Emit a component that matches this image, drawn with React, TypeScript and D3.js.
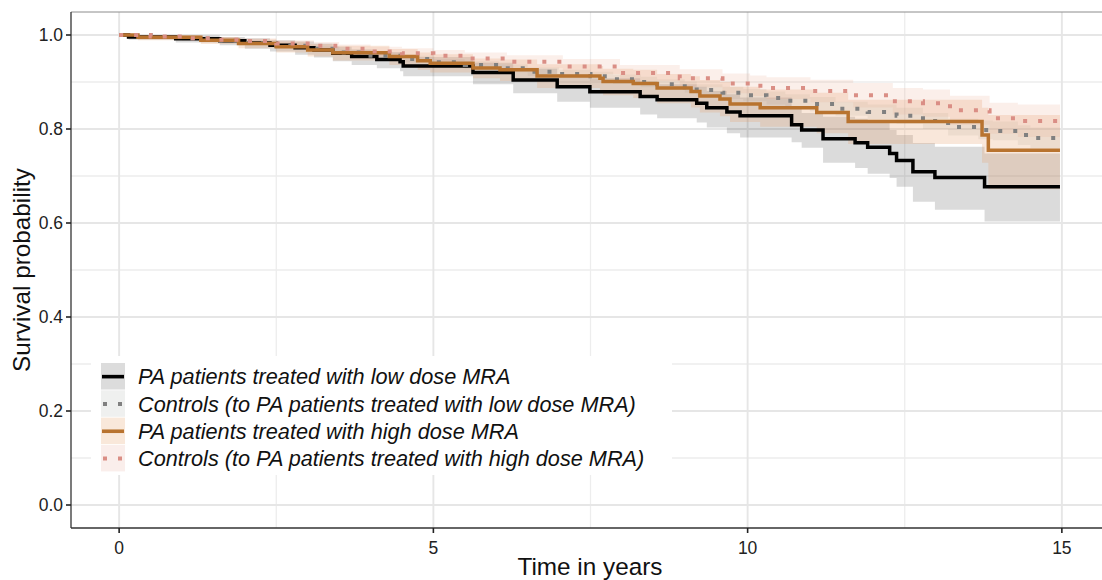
import React from 'react';
import * as d3 from 'd3';

// Kaplan-Meier step curves
const lowTime = [0, 0.15, 0.9, 1.6, 2.0, 2.4, 2.8, 3.1, 3.4, 3.7, 4.1, 4.47, 4.52, 5.63, 6.27, 6.97, 7.49, 8.29, 8.56, 9.19, 9.35, 9.67, 9.88, 10.7, 10.86, 11.2, 11.71, 11.91, 12.26, 12.37, 12.63, 12.98, 13.77, 14.97];
const lowSurv = [1.0, 0.996, 0.992, 0.988, 0.983, 0.978, 0.973, 0.968, 0.961, 0.954, 0.948, 0.943, 0.934, 0.92, 0.904, 0.89, 0.879, 0.869, 0.862, 0.855, 0.845, 0.836, 0.828, 0.809, 0.798, 0.779, 0.771, 0.761, 0.748, 0.733, 0.709, 0.697, 0.677, 0.677];
const lowLower = [1.0, 0.99, 0.984, 0.978, 0.971, 0.965, 0.958, 0.952, 0.944, 0.936, 0.929, 0.923, 0.912, 0.895, 0.876, 0.858, 0.845, 0.831, 0.823, 0.814, 0.803, 0.791, 0.782, 0.772, 0.76, 0.728, 0.717, 0.705, 0.696, 0.677, 0.645, 0.628, 0.603, 0.603];
const lowUpper = [1.0, 1.0, 0.999, 0.996, 0.993, 0.989, 0.986, 0.982, 0.975, 0.969, 0.964, 0.96, 0.953, 0.941, 0.928, 0.917, 0.908, 0.901, 0.895, 0.89, 0.881, 0.874, 0.867, 0.843, 0.834, 0.826, 0.822, 0.814, 0.798, 0.787, 0.77, 0.762, 0.748, 0.748];

const ctrlLowTime = [0, 0.5, 1.0, 1.5, 2.0, 2.5, 3.0, 3.5, 4.0, 4.5, 5.0, 5.5, 6.04, 6.5, 7.0, 7.5, 7.86, 8.3, 8.56, 9.0, 9.19, 9.6, 9.93, 10.3, 10.6, 10.99, 11.4, 11.91, 12.37, 12.79, 13.19, 13.67, 13.9, 14.3, 14.5, 14.97];
const ctrlLowSurv = [1.0, 0.996, 0.992, 0.988, 0.983, 0.977, 0.971, 0.963, 0.956, 0.949, 0.942, 0.936, 0.929, 0.922, 0.917, 0.912, 0.906, 0.9, 0.895, 0.889, 0.883, 0.877, 0.872, 0.866, 0.86, 0.853, 0.843, 0.836, 0.828, 0.817, 0.804, 0.798, 0.796, 0.787, 0.781, 0.781];
const ctrlLowLower = [1.0, 0.993, 0.988, 0.984, 0.978, 0.972, 0.966, 0.957, 0.95, 0.942, 0.935, 0.928, 0.921, 0.913, 0.908, 0.902, 0.896, 0.889, 0.884, 0.877, 0.871, 0.864, 0.859, 0.852, 0.846, 0.838, 0.828, 0.82, 0.811, 0.8, 0.786, 0.778, 0.776, 0.766, 0.759, 0.759];
const ctrlLowUpper = [1.0, 0.999, 0.996, 0.992, 0.988, 0.982, 0.976, 0.969, 0.962, 0.956, 0.949, 0.944, 0.937, 0.931, 0.926, 0.922, 0.916, 0.911, 0.906, 0.901, 0.895, 0.89, 0.885, 0.88, 0.874, 0.868, 0.858, 0.852, 0.845, 0.834, 0.822, 0.818, 0.816, 0.808, 0.803, 0.803];

const highTime = [0, 0.3, 1.3, 1.9, 2.5, 3.0, 3.4, 4.3, 4.75, 4.95, 5.63, 6.06, 6.65, 7.65, 7.7, 8.18, 8.56, 9.1, 9.24, 9.56, 9.72, 10.2, 11.1, 11.6, 13.73, 13.83, 14.97];
const highSurv = [1.0, 0.995, 0.989, 0.982, 0.975, 0.968, 0.962, 0.954, 0.945, 0.94, 0.93, 0.926, 0.913, 0.908, 0.901, 0.897, 0.887, 0.88, 0.87, 0.864, 0.853, 0.845, 0.835, 0.816, 0.787, 0.755, 0.755];
const highLower = [1.0, 0.989, 0.981, 0.972, 0.963, 0.954, 0.946, 0.936, 0.926, 0.92, 0.908, 0.902, 0.887, 0.88, 0.872, 0.866, 0.855, 0.846, 0.835, 0.827, 0.815, 0.805, 0.791, 0.768, 0.728, 0.672, 0.672];
const highUpper = [1.0, 1.0, 0.996, 0.991, 0.986, 0.981, 0.977, 0.97, 0.963, 0.959, 0.95, 0.948, 0.938, 0.934, 0.928, 0.926, 0.917, 0.912, 0.904, 0.9, 0.89, 0.884, 0.877, 0.862, 0.845, 0.83, 0.83];

const ctrlHighTime = [0, 0.5, 1.0, 1.5, 1.9, 2.5, 3.1, 3.5, 4.0, 4.5, 5.0, 5.5, 6.17, 7.06, 7.97, 8.92, 9.6, 10.04, 10.3, 11.0, 11.68, 12.31, 12.79, 13.22, 13.85, 14.3, 14.97];
const ctrlHighSurv = [1.0, 0.997, 0.993, 0.99, 0.987, 0.982, 0.977, 0.971, 0.965, 0.961, 0.956, 0.95, 0.943, 0.933, 0.919, 0.908, 0.897, 0.892, 0.887, 0.881, 0.872, 0.859, 0.855, 0.84, 0.823, 0.817, 0.817];
const ctrlHighLower = [1.0, 0.994, 0.989, 0.985, 0.981, 0.975, 0.969, 0.962, 0.955, 0.95, 0.944, 0.937, 0.929, 0.917, 0.902, 0.889, 0.876, 0.87, 0.864, 0.857, 0.846, 0.831, 0.826, 0.809, 0.79, 0.783, 0.783];
const ctrlHighUpper = [1.0, 1.0, 0.997, 0.995, 0.993, 0.989, 0.985, 0.98, 0.975, 0.972, 0.968, 0.963, 0.957, 0.949, 0.936, 0.927, 0.918, 0.914, 0.91, 0.905, 0.898, 0.887, 0.884, 0.871, 0.856, 0.852, 0.852];

const legendLabels = [
  'PA patients treated with low dose MRA',
  'Controls (to PA patients treated with low dose MRA)',
  'PA patients treated with high dose MRA',
  'Controls (to PA patients treated with high dose MRA)',
];
const lineColors = ['#000000', '#808080', '#B8732F', '#DA8E85'];
const ribbonColors = ['#000000', '#9AA49A', '#E8A06A', '#EBAE98'];
const ribbonOpacity = [0.14, 0.16, 0.25, 0.2];
const keyFills = ['#DCDCDC', '#EFF0EF', '#F9E8DA', '#FAEEEB'];
const dashed = [false, true, false, true];

const xTicks = [0, 5, 10, 15];
const xMinor = [2.5, 7.5, 12.5];
const yTicks = [0, 0.2, 0.4, 0.6, 0.8, 1.0];
const yMinor = [0.1, 0.3, 0.5, 0.7, 0.9];

const width = 1102;
const height = 580;
const font = '"Liberation Sans", Arial, sans-serif';

type Pt = { t: number; s: number; lo: number; hi: number };

const build = (t: number[], s: number[], lo: number[], hi: number[]): Pt[] =>
  t.map((v, i) => ({ t: v, s: s[i], lo: lo[i], hi: hi[i] }));

const series: Pt[][] = [
  build(lowTime, lowSurv, lowLower, lowUpper),
  build(ctrlLowTime, ctrlLowSurv, ctrlLowLower, ctrlLowUpper),
  build(highTime, highSurv, highLower, highUpper),
  build(ctrlHighTime, ctrlHighSurv, ctrlHighLower, ctrlHighUpper),
];

export default function App() {
  // panel: ggplot style 5% expansion on both axes
  const x = d3.scaleLinear().domain([-0.75, 15.75]).range([72, 1109]);
  const y = d3.scaleLinear().domain([-0.05, 1.05]).range([528.5, 11.5]);
  const left = 71;
  const bottom = 528;
  const top = 12;

  const area = d3.area<Pt>()
    .x(d => x(d.t))
    .y0(d => y(d.lo))
    .y1(d => y(d.hi))
    .curve(d3.curveStepAfter);
  const line = d3.line<Pt>()
    .x(d => x(d.t))
    .y(d => y(d.s))
    .curve(d3.curveStepAfter);

  const legendY0 = 363;
  const rowH = 27.3;

  return (
    <svg width={width} height={height} style={{ position: 'absolute', left: 0, top: 0 }}>
      <rect x={0} y={0} width={width} height={height} fill="#ffffff" />

      {/* grid */}
      {yMinor.map(v => (
        <line key={'ym' + v} x1={left} x2={width} y1={y(v)} y2={y(v)} stroke="#EDEDED" strokeWidth={1.3} />
      ))}
      {xMinor.map(v => (
        <line key={'xm' + v} x1={x(v)} x2={x(v)} y1={top} y2={bottom} stroke="#EDEDED" strokeWidth={1.3} />
      ))}
      {yTicks.map(v => (
        <line key={'yg' + v} x1={left} x2={width} y1={y(v)} y2={y(v)} stroke="#E6E6E6" strokeWidth={1.9} />
      ))}
      {xTicks.map(v => (
        <line key={'xg' + v} x1={x(v)} x2={x(v)} y1={top} y2={bottom} stroke="#E6E6E6" strokeWidth={1.9} />
      ))}

      {/* confidence ribbons */}
      {series.map((d, i) => (
        <path key={'r' + i} d={area(d) || ''} fill={ribbonColors[i]} fillOpacity={ribbonOpacity[i]} />
      ))}

      {/* survival curves */}
      {series.map((d, i) => (
        <path
          key={'l' + i}
          d={line(d) || ''}
          fill="none"
          stroke={lineColors[i]}
          strokeWidth={dashed[i] ? 4 : 3.5}
          strokeDasharray={dashed[i] ? '4 11' : undefined}
        />
      ))}

      {/* panel frame */}
      <line x1={left} x2={width} y1={top} y2={top} stroke="#8C8C8C" strokeWidth={1} />
      <line x1={left} x2={left} y1={top} y2={bottom} stroke="#333333" strokeWidth={1.3} />
      <line x1={left} x2={width} y1={bottom} y2={bottom} stroke="#333333" strokeWidth={1.3} />

      {/* y axis */}
      {yTicks.map(v => (
        <g key={'yt' + v}>
          <line x1={left - 5} x2={left} y1={y(v)} y2={y(v)} stroke="#222" strokeWidth={1.6} />
          <text x={left - 8} y={y(v)} dy="0.36em" textAnchor="end" fontFamily={font} fontSize={17.5} fill="#222">
            {v.toFixed(1)}
          </text>
        </g>
      ))}
      {/* x axis */}
      {xTicks.map(v => (
        <g key={'xt' + v}>
          <line x1={x(v)} x2={x(v)} y1={bottom} y2={bottom + 5} stroke="#222" strokeWidth={1.6} />
          <text x={x(v)} y={554} textAnchor="middle" fontFamily={font} fontSize={17.5} fill="#222">
            {v}
          </text>
        </g>
      ))}

      <text x={590} y={575} textAnchor="middle" fontFamily={font} fontSize={24.3} fill="#111">Time in years</text>
      <text
        transform={`translate(30,${(top + bottom) / 2}) rotate(-90)`}
        textAnchor="middle"
        fontFamily={font}
        fontSize={24.3}
        fill="#111"
      >
        Survival probability
      </text>

      {/* legend */}
      <rect x={91} y={356} width={581} height={119} fill="#ffffff" />
      {legendLabels.map((lab, i) => {
        const cy = legendY0 + rowH * i + rowH / 2;
        return (
          <g key={'lg' + i}>
            <rect x={101} y={legendY0 + rowH * i} width={24} height={rowH - 0.8} fill={keyFills[i]} />
            <line
              x1={dashed[i] ? 103 : 102}
              x2={dashed[i] ? 122 : 124}
              y1={cy}
              y2={cy}
              stroke={lineColors[i]}
              strokeWidth={dashed[i] ? 4 : 3.6}
              strokeDasharray={dashed[i] ? '4 11' : undefined}
            />
            <text x={138} y={cy} dy="0.36em" fontFamily={font} fontStyle="italic" fontSize={21.7} fill="#111">
              {lab}
            </text>
          </g>
        );
      })}
    </svg>
  );
}
